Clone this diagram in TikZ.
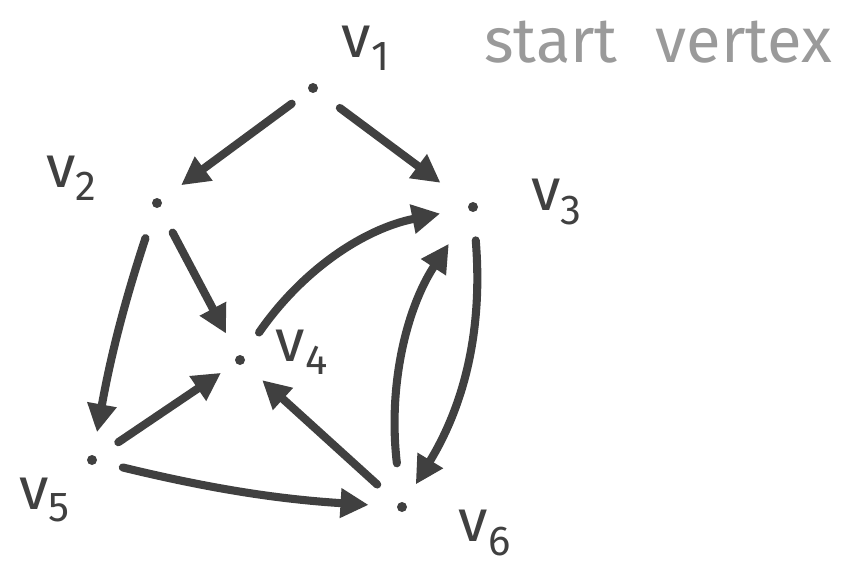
\documentclass[tikz,border=0pt]{standalone}
\usepackage{fontspec}
\setmainfont{Fira Sans}
\usepackage{xcolor}
\usetikzlibrary{arrows.meta,positioning}
\definecolor{ink}{HTML}{404040}
\definecolor{pencil}{HTML}{9A9A9A}

\begin{document}
\begin{tikzpicture}[
        x=0.02cm, y=-0.02cm,
        vdot/.style={circle, fill=ink, inner sep=0pt, minimum size=0.2cm},
        vlabel/.style={text=ink, font=\fontsize{34}{36}\selectfont},
        arr/.style={-{Triangle[length=16pt,width=16pt]}, line width=4.6pt, draw=ink, line cap=round}
    ]
        \useasboundingbox (0,0) rectangle (847,571);
        % vertices
        \node[vdot] (v1) at (313,88) {};
        \node[vdot] (v2) at (157,203) {};
        \node[vdot] (v3) at (473,207) {};
        \node[vdot] (v4) at (240,360) {};
        \node[vdot] (v5) at (92,460) {};
        \node[vdot] (v6) at (402,507) {};
        % labels
        \node[vlabel] (l1) at (366,48) {v\textsubscript{1}};
        \node[vlabel] (l2) at (72,178) {v\textsubscript{2}};
        \node[vlabel] (l3) at (557,202) {v\textsubscript{3}};
        \node[vlabel] (l4) at (302,352) {v\textsubscript{4}};
        \node[vlabel] (l5) at (45,500) {v\textsubscript{5}};
        \node[vlabel] (l6) at (485,533) {v\textsubscript{6}};
        \node[text=pencil, font=\fontsize{36}{38}\selectfont] (start) at (658,42) {start\hspace{0.6em}vertex};
        % edges
        \draw[arr, shorten <=12pt, shorten >=14pt] (v1) -- (v2);
        \draw[arr, shorten <=16pt, shorten >=20pt] (v1) -- (v3);
        \draw[arr, shorten <=16pt, shorten >=14pt] (v2) -- (v4);
        \draw[arr, shorten <=18pt, shorten >=13pt] (v2) to[bend right=4] (v5);
        \draw[arr, shorten <=16pt, shorten >=16pt] (v4) to[bend left=22] (v3);
        \draw[arr, shorten <=15pt, shorten >=10pt] (v5) -- (v4);
        \draw[arr, shorten <=15pt, shorten >=16pt] (v5) to[bend right=5] (v6);
        \draw[arr, shorten <=16pt, shorten >=14pt] (v6) -- (v4);
        \draw[arr, shorten <=22pt, shorten >=22pt] (v6) to[bend left=20] (v3);
        \draw[arr, shorten <=16pt, shorten >=12pt] (v3) to[bend left=18] (v6);
    \end{tikzpicture}
\end{document}
